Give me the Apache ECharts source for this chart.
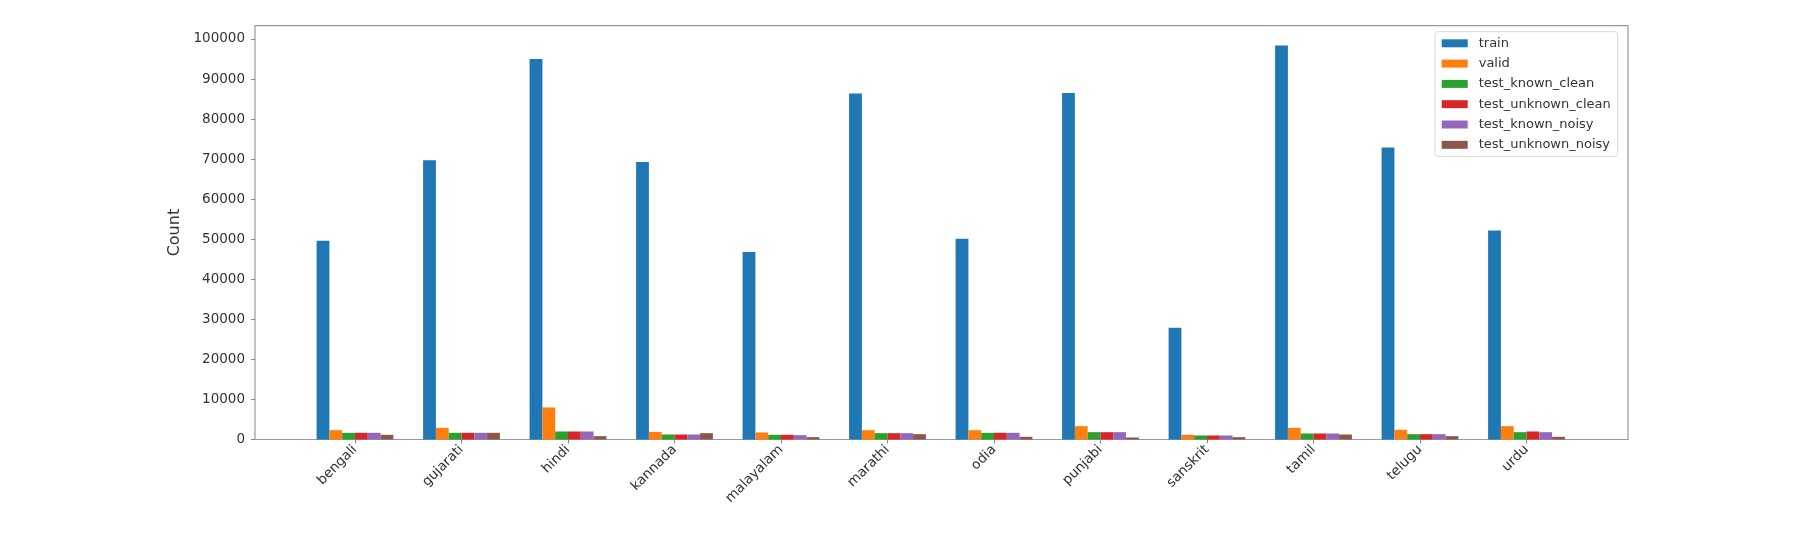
<!DOCTYPE html>
<html>
<head>
<meta charset="utf-8">
<title>Count per language</title>
<script src="https://cdn.jsdelivr.net/npm/echarts@6/dist/echarts.min.js"></script>
<style>
  html, body { margin: 0; padding: 0; background: #fff; }
  #chart { width: 1800px; height: 540px; }
</style>
</head>
<body>
<div id="chart"></div>
<script>
// categories
const languages = ['bengali', 'gujarati', 'hindi', 'kannada', 'malayalam', 'marathi', 'odia', 'punjabi', 'sanskrit', 'tamil', 'telugu', 'urdu']
// series values
const train = [49600, 69700, 95000, 69300, 46800, 86400, 50100, 86500, 27900, 98400, 72900, 52200]
const valid = [2330, 2900, 8000, 1900, 1750, 2330, 2330, 3330, 1170, 2920, 2420, 3330]
const testKnownClean = [1670, 1670, 2000, 1250, 1170, 1580, 1670, 1830, 1000, 1500, 1330, 1830]
const testUnknownClean = [1670, 1670, 2000, 1250, 1170, 1580, 1670, 1830, 1000, 1500, 1330, 2000]
const testKnownNoisy = [1670, 1670, 2000, 1250, 1080, 1580, 1670, 1830, 1000, 1500, 1330, 1830]
const testUnknownNoisy = [1170, 1670, 830, 1580, 580, 1330, 670, 500, 580, 1250, 830, 670]
const seriesNames = ['train', 'valid', 'test_known_clean', 'test_unknown_clean', 'test_known_noisy', 'test_unknown_noisy']
const seriesData = [train, valid, testKnownClean, testUnknownClean, testKnownNoisy, testUnknownNoisy]
const colors = ['#1f77b4', '#ff7f0e', '#2ca02c', '#d62728', '#9467bd', '#8c564b']

const yMax = 103320
const font = 'DejaVu Sans'

const myChart = echarts.init(document.getElementById('chart'))

const series = seriesNames.map((name, i) => ({
  name,
  type: 'bar',
  xAxisIndex: 1,
  yAxisIndex: 1,
  data: seriesData[i],
  barWidth: 12.8,
  barGap: '0%',
  itemStyle: { color: colors[i] },
  animation: false
}))

const option = {
  animation: false,
  color: colors,
  grid: [
    // frame with the y axis
    { left: 255, top: 25.7, width: 1373, height: 413.8, show: true, borderColor: '#999', borderWidth: 1.2, backgroundColor: 'transparent' },
    // bars
    { left: 301.75, top: 25.7, width: 1278, height: 413.8 }
  ],
  legend: {
    orient: 'vertical',
    left: 1435,
    top: 31.7,
    padding: [4.6, 7, 4.6, 6.7],
    itemWidth: 26,
    itemHeight: 8,
    itemGap: 6.3,
    icon: 'rect',
    borderColor: '#d8d8d8',
    borderWidth: 1,
    borderRadius: 3,
    textStyle: { fontFamily: font, fontSize: 13, color: '#333', lineHeight: 14, padding: [0, 0, 0, 6] },
    data: seriesNames
  },
  xAxis: [
    { gridIndex: 0, type: 'value', min: 0, max: 1, show: false },
    {
      gridIndex: 1,
      type: 'category',
      data: languages,
      axisLine: { show: false },
      axisTick: { show: true, alignWithLabel: true, length: 4, lineStyle: { color: '#888' } },
      axisLabel: { rotate: 45, margin: 8, fontFamily: font, fontSize: 13.5, color: '#333' }
    }
  ],
  yAxis: [
    {
      gridIndex: 0,
      type: 'value',
      min: 0,
      max: yMax,
      interval: 10000,
      name: 'Count',
      nameLocation: 'middle',
      nameGap: 60,
      nameTextStyle: { fontFamily: font, fontSize: 16, color: '#333' },
      axisLine: { show: false },
      axisTick: { show: true, length: 4, lineStyle: { color: '#888' } },
      splitLine: { show: false },
      axisLabel: {
        margin: 10,
        fontFamily: font,
        fontSize: 13.5,
        color: '#333',
        showMaxLabel: false,
        formatter: v => (v % 10000 === 0 ? String(v) : '')
      }
    },
    { gridIndex: 1, type: 'value', min: 0, max: yMax, show: false }
  ],
  series
}

myChart.setOption(option)
</script>
</body>
</html>
